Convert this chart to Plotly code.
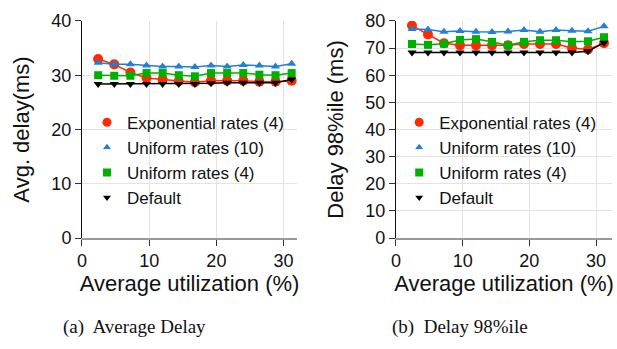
import plotly.graph_objects as go

util = [2.4, 4.8, 7.2, 9.6, 12.0, 14.4, 16.8, 19.2, 21.6, 24.0, 26.4, 28.8, 31.2]

series_names = ["Exponential rates (4)", "Uniform rates (10)", "Uniform rates (4)", "Default"]

avg_exp = [33.0, 32.0, 30.5, 29.5, 29.2, 28.9, 28.7, 29.0, 29.0, 29.0, 28.8, 28.8, 29.0]
avg_uni10 = [32.3, 32.0, 32.0, 31.8, 31.6, 31.6, 31.5, 31.8, 31.6, 31.9, 31.8, 31.6, 32.1]
avg_uni4 = [30.0, 29.9, 29.9, 30.4, 30.4, 30.0, 29.8, 30.4, 30.4, 30.4, 30.1, 30.0, 30.4]
avg_def = [28.4, 28.4, 28.4, 28.4, 28.4, 28.4, 28.4, 28.5, 28.6, 28.6, 28.6, 28.6, 29.2]

p98_exp = [78.3, 75.0, 71.8, 71.0, 71.0, 71.0, 71.0, 71.5, 71.5, 71.5, 70.0, 69.5, 71.8]
p98_uni10 = [77.0, 76.8, 76.0, 76.3, 76.0, 75.9, 76.1, 76.7, 76.0, 76.7, 76.4, 76.2, 78.0]
p98_uni4 = [71.5, 71.2, 71.6, 73.0, 73.3, 72.3, 71.0, 72.3, 72.9, 72.9, 72.3, 72.5, 74.0]
p98_def = [68.4, 68.4, 68.4, 68.4, 68.4, 68.4, 68.4, 68.4, 68.4, 68.4, 68.4, 68.8, 72.0]

captions = ["(a)  Average Delay", "(b)  Delay 98%ile"]

colors = ["#ff2a00", "#1f7fd9", "#00b000", "#000000"]
symbols = ["circle", "triangle-up", "square", "triangle-down"]
msizes = [10, 8, 8, 8]
legend_msizes = [9, 7, 8, 7]

font_sans = "Liberation Sans, Arial, sans-serif"
font_serif = "Liberation Serif, Times New Roman, serif"
txt = "#111111"

fig = go.Figure()


def add_series(ys, xref, yref, legend):
    for i, y in enumerate(ys):
        fig.add_trace(go.Scatter(
            x=util, y=y, mode="lines+markers", showlegend=False,
            line=dict(color=colors[i], width=1.5),
            marker=dict(color=colors[i], symbol=symbols[i], size=msizes[i]),
            xaxis=xref, yaxis=yref,
        ))
    for i in range(len(ys)):
        fig.add_trace(go.Scatter(
            x=[None], y=[None], name=series_names[i], mode="markers",
            marker=dict(color=colors[i], symbol=symbols[i], size=legend_msizes[i]),
            xaxis=xref, yaxis=yref, legend=legend, showlegend=True,
        ))


add_series([avg_exp, avg_uni10, avg_uni4, avg_def], "x", "y", "legend")
add_series([p98_exp, p98_uni10, p98_uni4, p98_def], "x2", "y2", "legend2")

grid = "#e3e3e3"
axis_common = dict(showgrid=True, gridcolor=grid, gridwidth=1,
                   ticks="outside", ticklen=6, tickwidth=1, tickcolor="#333",
                   tickfont=dict(family=font_sans, size=18, color=txt),
                   zeroline=False, automargin=False)
title_font = dict(family=font_sans, size=22, color=txt)

legend_common = dict(
    font=dict(family=font_sans, size=17, color=txt),
    bgcolor="rgba(0,0,0,0)", tracegroupgap=0, itemwidth=30,
    xanchor="left", yanchor="top", borderwidth=0,
)

fig.update_layout(
    template="none",
    width=617, height=349,
    margin=dict(l=0, r=0, t=0, b=0, autoexpand=False),
    paper_bgcolor="white", plot_bgcolor="white",
    xaxis=dict(domain=[0.1329, 0.4814], range=[0, 32], tickvals=[0, 10, 20, 30],
               showline=True, linecolor="#999", linewidth=1.5,
               title=dict(text="Average utilization (%)", font=title_font, standoff=4),
               anchor="y", **axis_common),
    yaxis=dict(domain=[0.318, 0.940], range=[0, 40], tickvals=[0, 10, 20, 30, 40],
               showline=True, linecolor="#111", linewidth=1,
               title=dict(text="Avg. delay(ms)", font=title_font, standoff=15),
               anchor="x", **axis_common),
    xaxis2=dict(domain=[0.6418, 0.9919], range=[0, 32.4], tickvals=[0, 10, 20, 30],
                showline=True, linecolor="#999", linewidth=1.5,
                title=dict(text="Average utilization (%)", font=title_font, standoff=4),
                anchor="y2", **axis_common),
    yaxis2=dict(domain=[0.318, 0.940], range=[0, 80], tickvals=[0, 10, 20, 30, 40, 50, 60, 70, 80],
                showline=True, linecolor="#111", linewidth=1,
                title=dict(text="Delay 98%ile (ms)", font=title_font, standoff=15),
                anchor="x2", **axis_common),
    legend=dict(x=0.141, y=0.70, **legend_common),
    legend2=dict(x=0.647, y=0.70, **legend_common),
    showlegend=True,
)

for cx, cap in zip([134 / 617, 460 / 617], captions):
    fig.add_annotation(text=cap, x=cx, y=(349 - 327) / 349, xref="paper", yref="paper",
                       xanchor="center", yanchor="middle", showarrow=False,
                       font=dict(family=font_serif, size=19, color=txt))

fig.write_html("out.html")
